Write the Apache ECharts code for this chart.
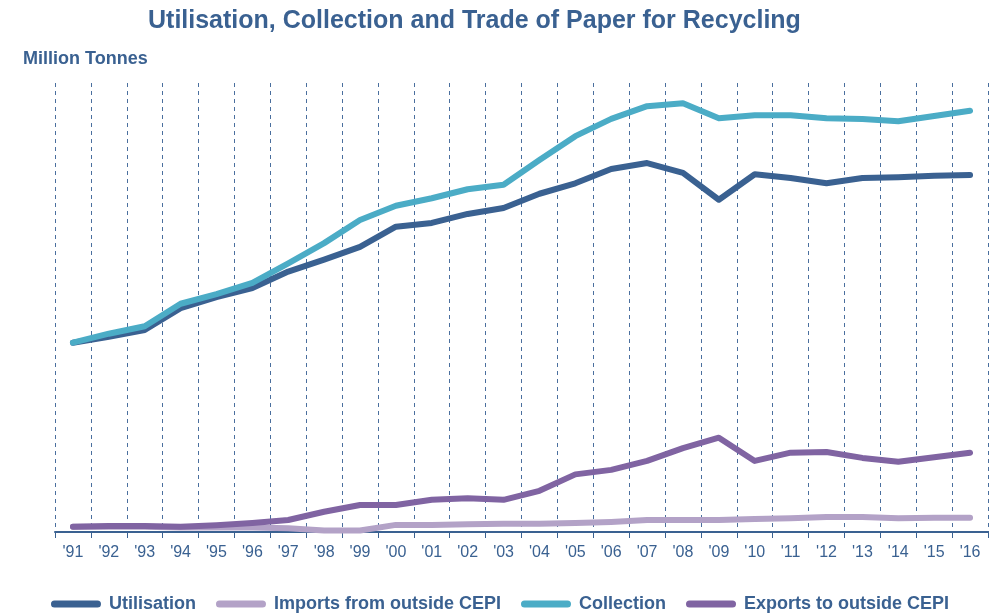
<!DOCTYPE html>
<html>
<head>
<meta charset="utf-8">
<script src="https://cdn.jsdelivr.net/npm/echarts@6/dist/echarts.min.js"></script>
<style>
  html, body { margin: 0; padding: 0; background: #fff; }
  #chart { width: 1000px; height: 614px; }
</style>
</head>
<body>
<div id="chart"></div>
<script>
// years shown on the x axis
const years = ["'91", "'92", "'93", "'94", "'95", "'96", "'97", "'98", "'99", "'00", "'01", "'02", "'03",
               "'04", "'05", "'06", "'07", "'08", "'09", "'10", "'11", "'12", "'13", "'14", "'15", "'16"];

// million tonnes
const utilisation = [25.3, 26.1, 27.0, 29.9, 31.4, 32.6, 34.8, 36.4, 38.1, 40.8, 41.3, 42.5, 43.3,
                     45.2, 46.6, 48.5, 49.3, 48.0, 44.4, 47.8, 47.3, 46.6, 47.3, 47.4, 47.6, 47.7];
const imports = [0.7, 0.7, 0.7, 0.6, 0.6, 0.6, 0.5, 0.2, 0.2, 0.95, 0.95, 1.05, 1.1,
                 1.1, 1.2, 1.35, 1.6, 1.6, 1.6, 1.75, 1.85, 2.0, 2.0, 1.85, 1.9, 1.9];
const collection = [25.3, 26.5, 27.5, 30.5, 31.8, 33.3, 35.9, 38.6, 41.7, 43.6, 44.6, 45.8, 46.4,
                    49.7, 52.9, 55.2, 56.9, 57.3, 55.3, 55.7, 55.7, 55.3, 55.2, 54.9, 55.6, 56.3];
const exports_ = [0.7, 0.8, 0.8, 0.7, 0.9, 1.2, 1.6, 2.7, 3.6, 3.6, 4.3, 4.5, 4.3,
                  5.5, 7.7, 8.3, 9.5, 11.2, 12.6, 9.5, 10.6, 10.7, 9.9, 9.4, 10.0, 10.6];

const blue = '#3a6191';
// legend key: a thick line with round ends
const capsule = 'path://M3.5,0 H46.5 A3.5,3.5 0 0 1 46.5,7 H3.5 A3.5,3.5 0 0 1 3.5,0 Z';

const chart = echarts.init(document.getElementById('chart'));

const mkLine = (name, data, color) => ({
    name: name,
    type: 'line',
    data: data,
    showSymbol: false,
    symbol: 'none',
    lineStyle: { color: color, width: 6, cap: 'round', join: 'round' },
    itemStyle: { color: color }
});

chart.setOption({
    animation: false,
    title: [
        {
            text: 'Utilisation, Collection and Trade of Paper for Recycling',
            left: 143,
            top: 4,
            textStyle: { color: blue, fontFamily: 'Liberation Sans', fontWeight: 'bold', fontSize: 25 }
        },
        {
            text: 'Million Tonnes',
            left: 18,
            top: 45,
            textStyle: { color: blue, fontFamily: 'Liberation Sans', fontWeight: 'bold', fontSize: 18 }
        }
    ],
    legend: {
        top: 590,
        left: 'center',
        icon: capsule,
        itemWidth: 50,
        itemHeight: 7,
        itemGap: 20,
        textStyle: {
            color: blue, fontFamily: 'Liberation Sans', fontWeight: 'bold', fontSize: 18,
            padding: [0, 0, 0, 3]
        },
        data: ['Utilisation', 'Imports from outside CEPI', 'Collection', 'Exports to outside CEPI']
    },
    grid: { left: 55, right: 12, top: 83, bottom: 82 },
    xAxis: {
        type: 'category',
        data: years,
        boundaryGap: true,
        axisLine: { lineStyle: { color: blue, width: 2 } },
        axisTick: { show: true, length: 6, lineStyle: { color: blue, width: 1 } },
        axisLabel: { color: blue, fontFamily: 'Liberation Sans', fontSize: 16, margin: 13 },
        splitLine: { show: true, lineStyle: { color: '#4a6f9e', width: 1, type: [4, 4] } }
    },
    yAxis: {
        type: 'value',
        min: 0,
        max: 60,
        show: false,
        splitLine: { show: false }
    },
    series: [
        mkLine('Utilisation', utilisation, '#3a6191'),
        mkLine('Imports from outside CEPI', imports, '#b3a2c7'),
        mkLine('Collection', collection, '#4bacc6'),
        mkLine('Exports to outside CEPI', exports_, '#8064a2')
    ]
});
</script>
</body>
</html>
